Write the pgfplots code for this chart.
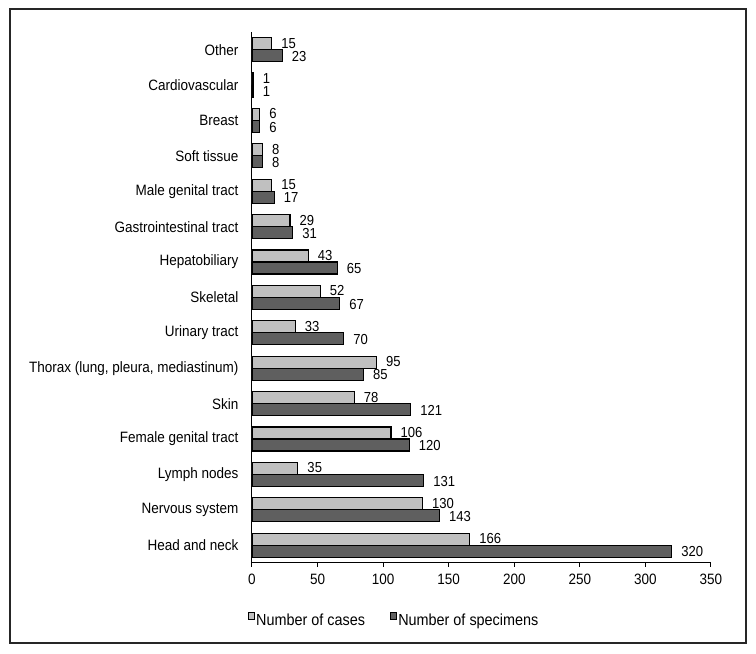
\documentclass[border=0pt]{standalone}
\usepackage{fontspec}
\setmainfont{Liberation Sans}[FakeStretch=0.9]
\usepackage{pgfplots}
\pgfplotsset{compat=1.18}
\definecolor{lightbar}{HTML}{C0C0C0}
\definecolor{darkbar}{HTML}{5F5F5F}
\newcommand{\chartfont}{\fontsize{15}{17}\selectfont}
\newcommand{\valfont}{\fontsize{14.5}{16}\selectfont}
\begin{document}
\begin{tikzpicture}[x=1pt,y=1pt]
\path (0,0) rectangle (756,654);
\draw[line width=1.5pt, black!85] (10,11) rectangle (746,645);
\begin{axis}[
  at={(252pt,91pt)}, anchor=south west,
  width=459pt, height=531pt, scale only axis,
  xbar, bar width=12pt,
  xmin=0, xmax=350, ymin=-0.5, ymax=14.5,
  axis x line*=bottom, axis y line*=left,
  axis line style={-, line width=1pt},
  tick align=outside,
  xtick={0,50,...,350},
  xtick style={line width=1pt, black},
  major tick length=4pt,
  ytick={0,...,14},
  yticklabels={Head and neck,Nervous system,Lymph nodes,Female genital tract,Skin,{Thorax (lung, pleura, mediastinum)},Urinary tract,Skeletal,Hepatobiliary,Gastrointestinal tract,Male genital tract,Soft tissue,Breast,Cardiovascular,Other},
  ytick style={draw=none},
  minor ytick={-0.5,0.5,...,14.5},
  minor tick length=4pt,
  minor tick style={line width=1pt, black},
  tick label style={font=\chartfont},
  yticklabel style={xshift=-6pt},
  xticklabel style={yshift=-3pt},
  /pgf/number format/assume math mode=true,
  point meta=x,
  nodes near coords,
  nodes near coords style={font=\valfont, anchor=west, inner sep=0pt, xshift=9pt, text=black},
  legend style={at={(axis description cs:-0.016,-0.108)}, anchor=west, draw=none, fill=none,
    font=\fontsize{16}{18}\selectfont, legend columns=2,
    /tikz/every even column/.append style={column sep=24pt},
    nodes={inner sep=1pt}},
  legend cell align=left,
  legend image code/.code={\draw[#1, line width=0.8pt] (0pt,1pt) rectangle (6.5pt,8pt);},
]
\addplot[fill=lightbar, draw=black, line width=1.2pt, bar shift=6pt,
  nodes near coords style={yshift=0.6pt}] coordinates {
(166,0) (130,1) (35,2) (106,3) (78,4) (95,5) (33,6) (52,7) (43,8) (29,9) (15,10) (8,11) (6,12) (1,13) (15,14)};
\addlegendentry{Number of cases}
\addplot[fill=darkbar, draw=black, line width=1.2pt, bar shift=-6pt,
  nodes near coords style={yshift=-0.6pt}] coordinates {
(320,0) (143,1) (131,2) (120,3) (121,4) (85,5) (70,6) (67,7) (65,8) (31,9) (17,10) (8,11) (6,12) (1,13) (23,14)};
\addlegendentry{Number of specimens}
\end{axis}
\end{tikzpicture}
\end{document}
